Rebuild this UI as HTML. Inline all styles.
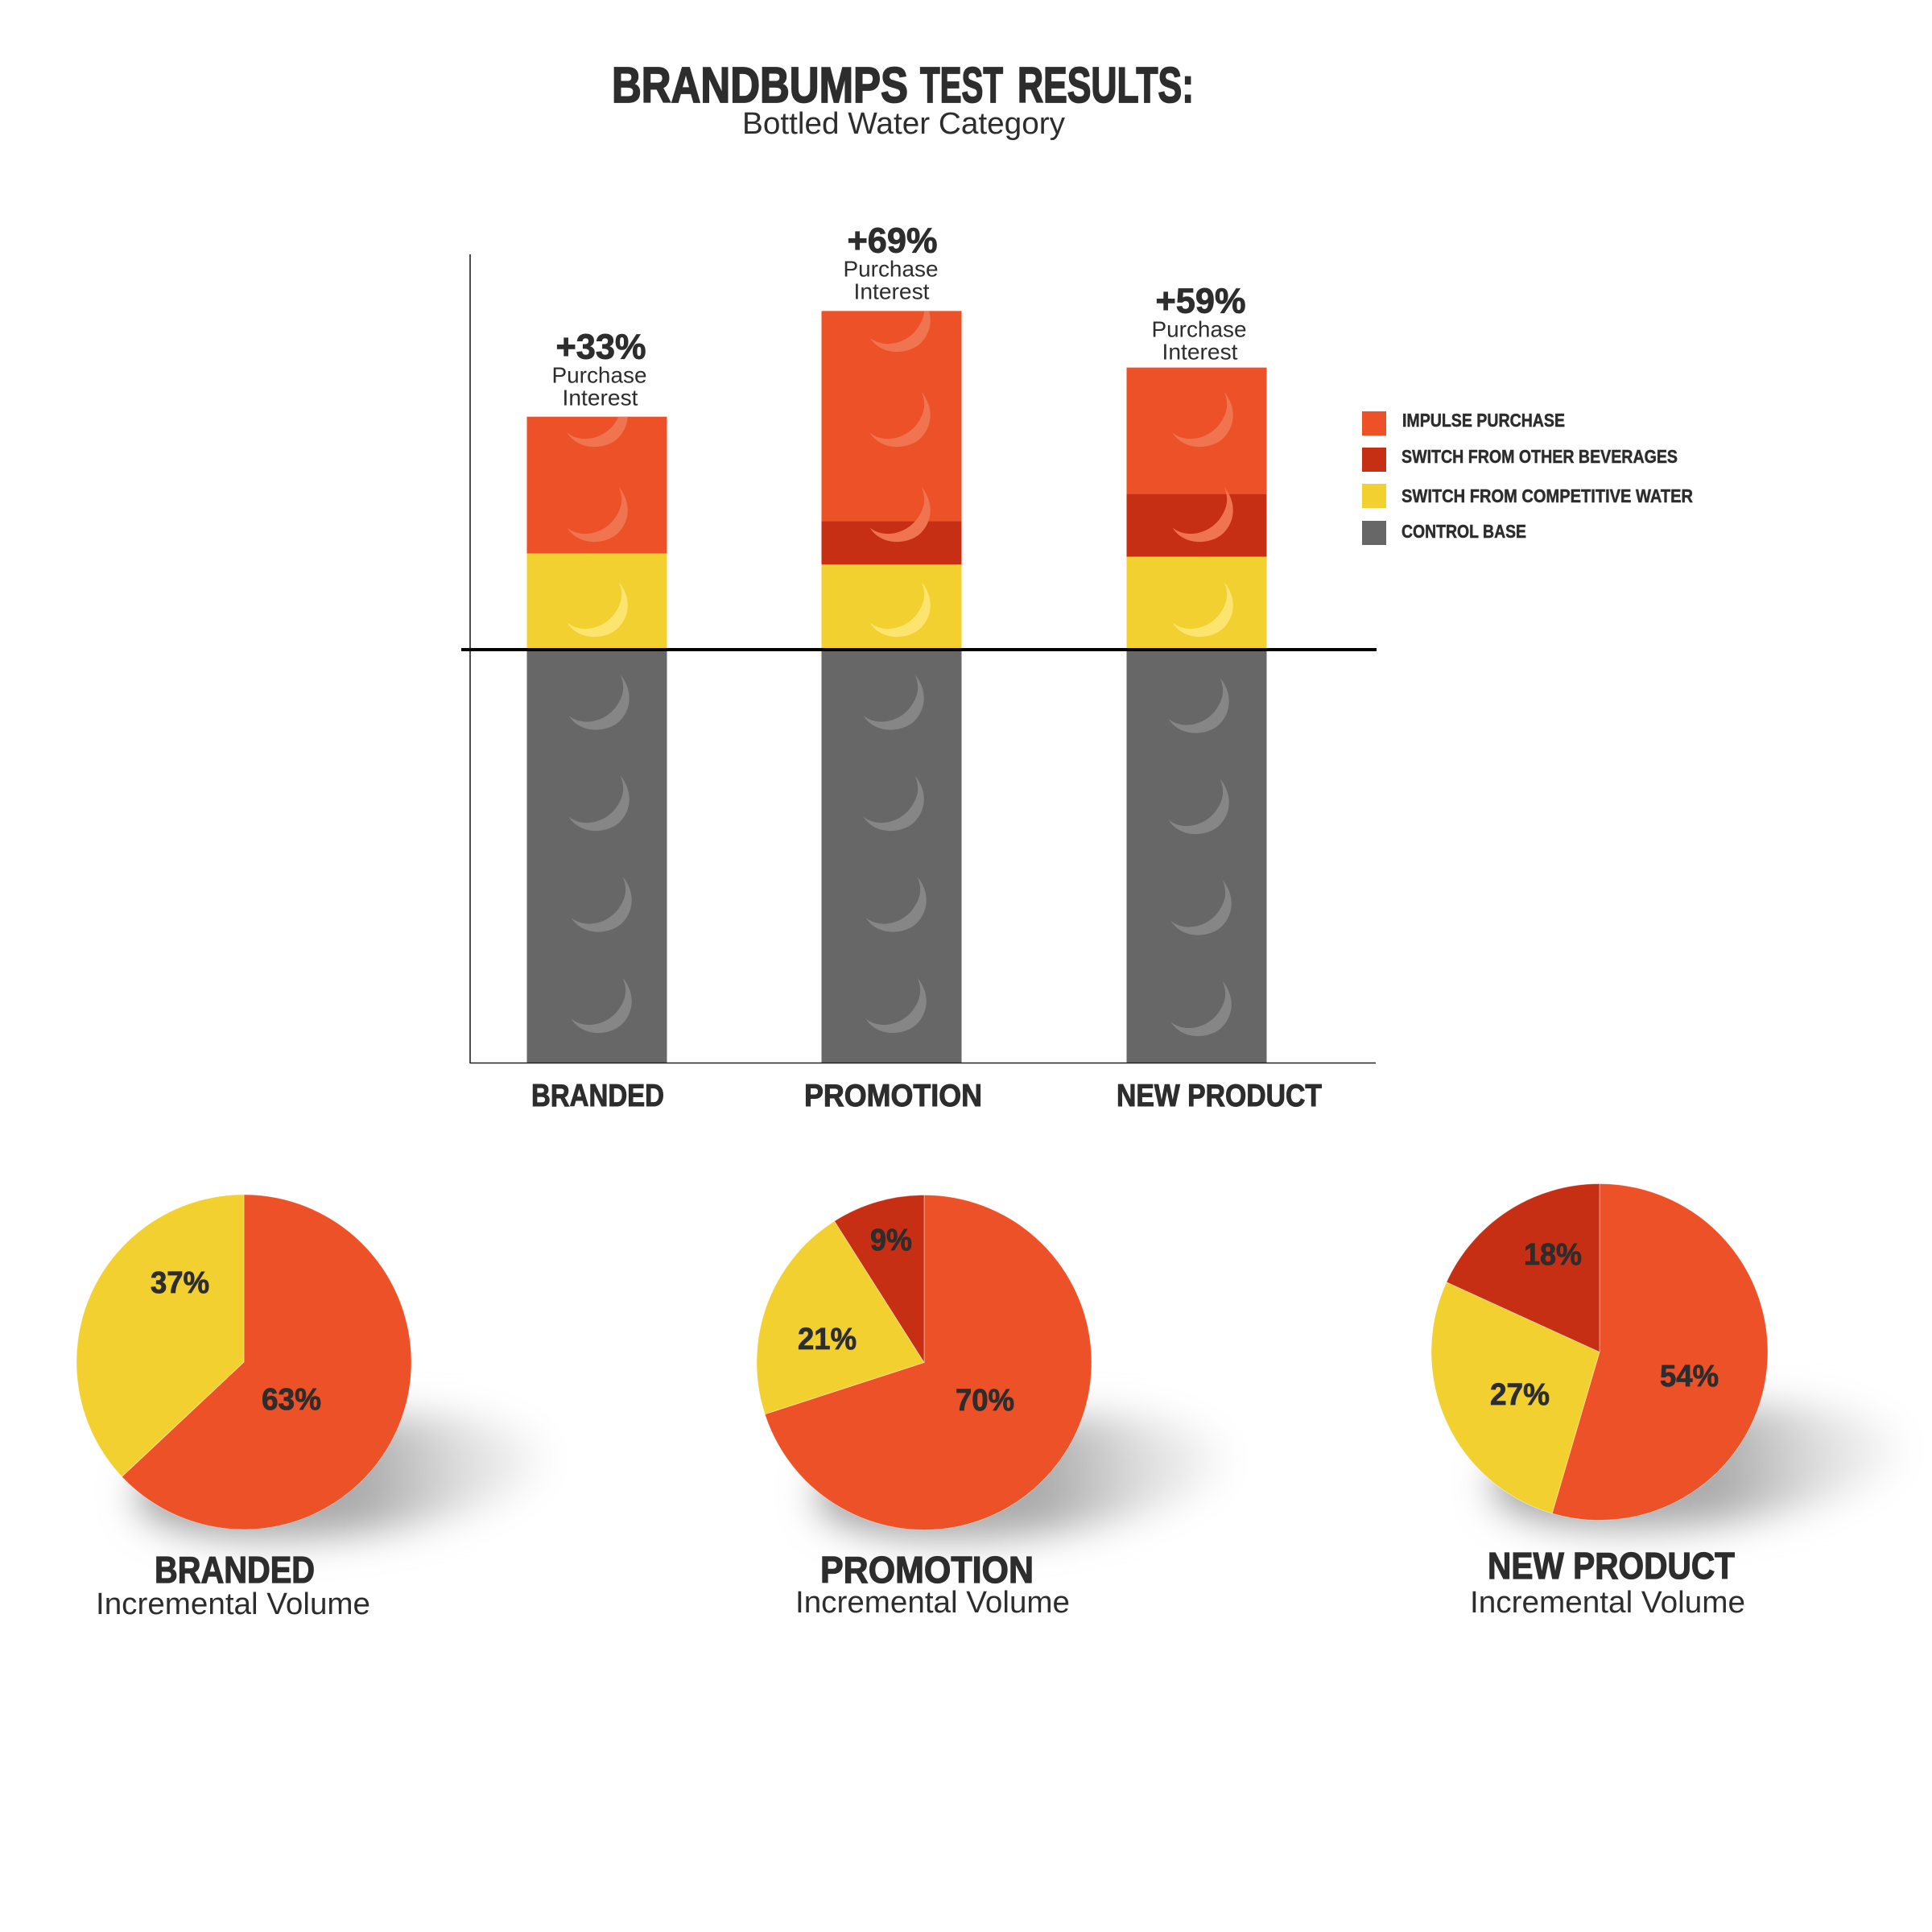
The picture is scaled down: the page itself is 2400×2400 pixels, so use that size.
<!DOCTYPE html>
<html lang="en">
<head>
<meta charset="utf-8">
<title>BrandBumps Test Results</title>
<style>
html,body{margin:0;padding:0;background:#fff;}
svg{display:block;}
text{font-family:"Liberation Sans",sans-serif;fill:#2d2d2d;}
.h{font-weight:700;stroke:#2d2d2d;}
</style>
</head>
<body>
<svg id="chart" xmlns="http://www.w3.org/2000/svg" width="2400" height="2400" viewBox="0 0 2400 2400">
  <defs>
    <filter id="shadow-blur" x="-30%" y="-70%" width="160%" height="240%"><feGaussianBlur stdDeviation="23"/></filter>
    <linearGradient id="shadow-fade" x1="0" y1="0" x2="1" y2="0">
      <stop offset="0" stop-color="#a0a0a0"/>
      <stop offset="0.55" stop-color="#acacac"/>
      <stop offset="0.8" stop-color="#dedede"/>
      <stop offset="1" stop-color="#f8f8f8"/>
    </linearGradient>
  </defs>
  <rect width="2400" height="2400" fill="#fff"/>

  <g>
    <text class="h" x="760" y="127" font-size="62" textLength="368" lengthAdjust="spacingAndGlyphs" stroke-width="1.8">BRANDBUMPS</text>
    <text class="h" x="1143" y="127" font-size="62" textLength="103" lengthAdjust="spacingAndGlyphs" stroke-width="1.8">TEST</text>
    <text class="h" x="1264" y="127" font-size="62" textLength="219" lengthAdjust="spacingAndGlyphs" stroke-width="1.8">RESULTS:</text>
  </g>
  <text x="922" y="166" font-size="38" textLength="401" lengthAdjust="spacingAndGlyphs">Bottled Water Category</text>

  <g id="bars"></g>

  <line x1="584" y1="316" x2="584" y2="1321" stroke="#222" stroke-width="1.6"/>
  <line x1="584" y1="1320.5" x2="1709" y2="1320.5" stroke="#222" stroke-width="1.6"/>
  <line x1="573" y1="807" x2="1710" y2="807" stroke="#000" stroke-width="4"/>

  <text class="h" x="660" y="1374" font-size="39" textLength="165" lengthAdjust="spacingAndGlyphs" stroke-width="1">BRANDED</text>
  <text class="h" x="999" y="1374" font-size="39" textLength="221" lengthAdjust="spacingAndGlyphs" stroke-width="1">PROMOTION</text>
  <text class="h" x="1387" y="1374" font-size="39" textLength="255" lengthAdjust="spacingAndGlyphs" stroke-width="1">NEW PRODUCT</text>

  <g>
    <rect x="1692" y="511" width="30" height="30" fill="#ec5127"/>
    <rect x="1692" y="556" width="30" height="30" fill="#c62f14"/>
    <rect x="1692" y="601" width="30" height="30" fill="#f1d030"/>
    <rect x="1692" y="647" width="30" height="30" fill="#676767"/>
    <text class="h" x="1742" y="530" font-size="23" textLength="202" lengthAdjust="spacingAndGlyphs" stroke-width=".5">IMPULSE PURCHASE</text>
    <text class="h" x="1741" y="575" font-size="23" textLength="343" lengthAdjust="spacingAndGlyphs" stroke-width=".5">SWITCH FROM OTHER BEVERAGES</text>
    <text class="h" x="1741" y="624" font-size="23" textLength="362" lengthAdjust="spacingAndGlyphs" stroke-width=".5">SWITCH FROM COMPETITIVE WATER</text>
    <text class="h" x="1741" y="668" font-size="23" textLength="155" lengthAdjust="spacingAndGlyphs" stroke-width=".5">CONTROL BASE</text>
  </g>

  <g id="pie-0" transform="translate(303 1692)"></g>
  <g id="pie-1" transform="translate(1148 1692.5)"></g>
  <g id="pie-2" transform="translate(1987 1679.5)"></g>

  <text class="h" x="187" y="1606" font-size="38" textLength="73" lengthAdjust="spacingAndGlyphs" stroke-width=".8">37%</text>
  <text class="h" x="325" y="1751" font-size="38" textLength="74" lengthAdjust="spacingAndGlyphs" stroke-width=".8">63%</text>
  <text class="h" x="1081" y="1553" font-size="38" textLength="52" lengthAdjust="spacingAndGlyphs" stroke-width=".8">9%</text>
  <text class="h" x="991" y="1676" font-size="38" textLength="73" lengthAdjust="spacingAndGlyphs" stroke-width=".8">21%</text>
  <text class="h" x="1187" y="1752" font-size="38" textLength="73" lengthAdjust="spacingAndGlyphs" stroke-width=".8">70%</text>
  <text class="h" x="1893" y="1571" font-size="38" textLength="72" lengthAdjust="spacingAndGlyphs" stroke-width=".8">18%</text>
  <text class="h" x="1851" y="1745" font-size="38" textLength="74" lengthAdjust="spacingAndGlyphs" stroke-width=".8">27%</text>
  <text class="h" x="2062" y="1722" font-size="38" textLength="73" lengthAdjust="spacingAndGlyphs" stroke-width=".8">54%</text>

  <text class="h" x="192" y="1966" font-size="46" textLength="199" lengthAdjust="spacingAndGlyphs" stroke-width="1.2">BRANDED</text>
  <text x="119" y="2005" font-size="38" textLength="341" lengthAdjust="spacingAndGlyphs">Incremental Volume</text>
  <text class="h" x="1019" y="1966" font-size="46" textLength="265" lengthAdjust="spacingAndGlyphs" stroke-width="1.2">PROMOTION</text>
  <text x="988" y="2003" font-size="38" textLength="341" lengthAdjust="spacingAndGlyphs">Incremental Volume</text>
  <text class="h" x="1848" y="1961" font-size="46" textLength="307" lengthAdjust="spacingAndGlyphs" stroke-width="1.2">NEW PRODUCT</text>
  <text x="1826" y="2003" font-size="38" textLength="342" lengthAdjust="spacingAndGlyphs">Incremental Volume</text>
</svg>

<script>
const categories = ['branded', 'promotion', 'new-product'];
const controlBase = [100, 100, 100];
const competitiveWater = [23.4, 20.7, 22.6];
const otherBeverages = [0, 10.5, 15.2];
const impulsePurchase = [33.1, 50.9, 30.6];
const liftLabels = ['+33%', '+69%', '+59%'];

const pieImpulse = [63, 70, 54];
const pieCompetitive = [37, 21, 27];
const pieOther = [0, 9, 18];

const SVG_NS = 'http://www.w3.org/2000/svg';
const ORANGE = '#ec5127', DARK = '#c62f14', YELLOW = '#f1d030', GREY = '#676767';
const BAR_W = 174;
const CRESCENT = 'M33,-26 C48,-8 48,15 33,31 C20,45 -15,50 -31,25 C-15,38 12,34 27,15 C38,0 39,-12 33,-26 Z';

function yScale(v) { return 1320.5 - v * 5.13; }
function xLeft(i) { return 654.5 + 366 * i + 6.5 * i * (i - 1); }

function make(tag, attrs, parent) {
  const el = document.createElementNS(SVG_NS, tag);
  for (const k in attrs) el.setAttribute(k, attrs[k]);
  parent.appendChild(el);
  return el;
}

const barsRoot = document.getElementById('bars');
categories.forEach(function (cat, i) {
  const x = xLeft(i);
  const c0 = controlBase[i];
  const c1 = c0 + competitiveWater[i];
  const c2 = c1 + otherBeverages[i];
  const c3 = c2 + impulsePurchase[i];
  const cx = x + BAR_W / 2;

  const g = make('g', {}, barsRoot);
  
  

  const clip = make('clipPath', { id: 'clip-bar-' + i }, g);
  make('rect', { x: x, y: yScale(c3), width: BAR_W, height: yScale(0) - yScale(c3) }, clip);

  const grey = make('rect', { x: x, y: yScale(c0), width: BAR_W, height: yScale(0) - yScale(c0), fill: GREY }, g);
  
  

  const yel = make('rect', { x: x, y: yScale(c1), width: BAR_W, height: yScale(c0) - yScale(c1), fill: YELLOW }, g);
  
  

  const drk = make('rect', { x: x, y: yScale(c2), width: BAR_W, height: yScale(c1) - yScale(c2), fill: DARK }, g);
  
  

  const org = make('rect', { x: x, y: yScale(c3), width: BAR_W, height: yScale(c2) - yScale(c3), fill: ORANGE }, g);
  
  

  const upperDx = i === 0 ? -6 : i === 1 ? 4 : 1;
  const greyDy = i === 2 ? 4 : 0;

  const studs = make('g', { 'clip-path': 'url(#clip-bar-' + i + ')' }, g);
  
  
  for (let row = 0; row < 4; row++) {
    const sy = yScale(0) - 80 - 125.5 * row + greyDy;
    const s = make('path', { d: CRESCENT, transform: 'translate(' + (cx - 4 + (row < 2 ? 3 : 0)) + ' ' + sy + ')', fill: '#868686' }, studs);
    
    
  }
  for (let row = 0; row < 5; row++) {
    const sy = yScale(c0) - 59 - 118 * row;
    const inYellow = sy > yScale(c1);
    const s = make('path', { d: CRESCENT, transform: 'translate(' + (cx + upperDx) + ' ' + sy + ')', fill: inYellow ? '#fde46e' : '#f0744f' }, studs);
    
    
  }

  const top = yScale(c3);
  const nudgeX = i === 1 ? -4 : 0;
  const nudgeY = i === 0 ? -2 : i === 1 ? -3 : 2;

  const lift = make('text', { class: 'h', x: cx + 5 + nudgeX, y: top - 70 + nudgeY, 'font-size': 44, 'text-anchor': 'middle', textLength: 112, lengthAdjust: 'spacingAndGlyphs', 'stroke-width': '.9' }, g);
  lift.textContent = liftLabels[i];
  
  

  const l1 = make('text', { x: cx + 3 + nudgeX, y: top - 40 + nudgeY, 'font-size': 28, 'text-anchor': 'middle', textLength: 118, lengthAdjust: 'spacingAndGlyphs' }, g);
  l1.textContent = 'Purchase';
  
  

  const l2 = make('text', { x: cx + 4 + nudgeX, y: top - 12 + nudgeY, 'font-size': 28, 'text-anchor': 'middle', textLength: 94, lengthAdjust: 'spacingAndGlyphs' }, g);
  l2.textContent = 'Interest';
  
  
});

function polar(r, deg) {
  const a = deg * Math.PI / 180;
  return [r * Math.sin(a), -r * Math.cos(a)];
}

function slicePath(r, a0, a1) {
  const p0 = polar(r, a0);
  const p1 = polar(r, a1);
  const large = a1 - a0 > 180 ? 1 : 0;
  return 'M0,0 L' + p0[0] + ',' + p0[1] + ' A' + r + ',' + r + ' 0 ' + large + ' 1 ' + p1[0] + ',' + p1[1] + ' Z';
}

categories.forEach(function (cat, i) {
  const root = document.getElementById('pie-' + i);
  const shadow = make('ellipse', { cx: 120, cy: 143, rx: 255, ry: 72, fill: 'url(#shadow-fade)', filter: 'url(#shadow-blur)', transform: 'rotate(-6 120 143)' }, root);
  
  

  const radius = i === 2 ? 209 : 208;
  const vals = [pieImpulse[i], pieCompetitive[i], pieOther[i]];
  const cols = [ORANGE, YELLOW, DARK];
  const names = ['impulse', 'competitive', 'other'];
  const total = vals[0] + vals[1] + vals[2];
  let start = 0;
  vals.forEach(function (v, k) {
    if (v <= 0) return;
    const end = start + v / total * 360;
    const s = make('path', { d: slicePath(radius, start, end), fill: cols[k], stroke: '#fff', 'stroke-width': '.8', 'stroke-opacity': '.5' }, root);
    
    
    start = end;
  });
});
</script>
</body>
</html>
